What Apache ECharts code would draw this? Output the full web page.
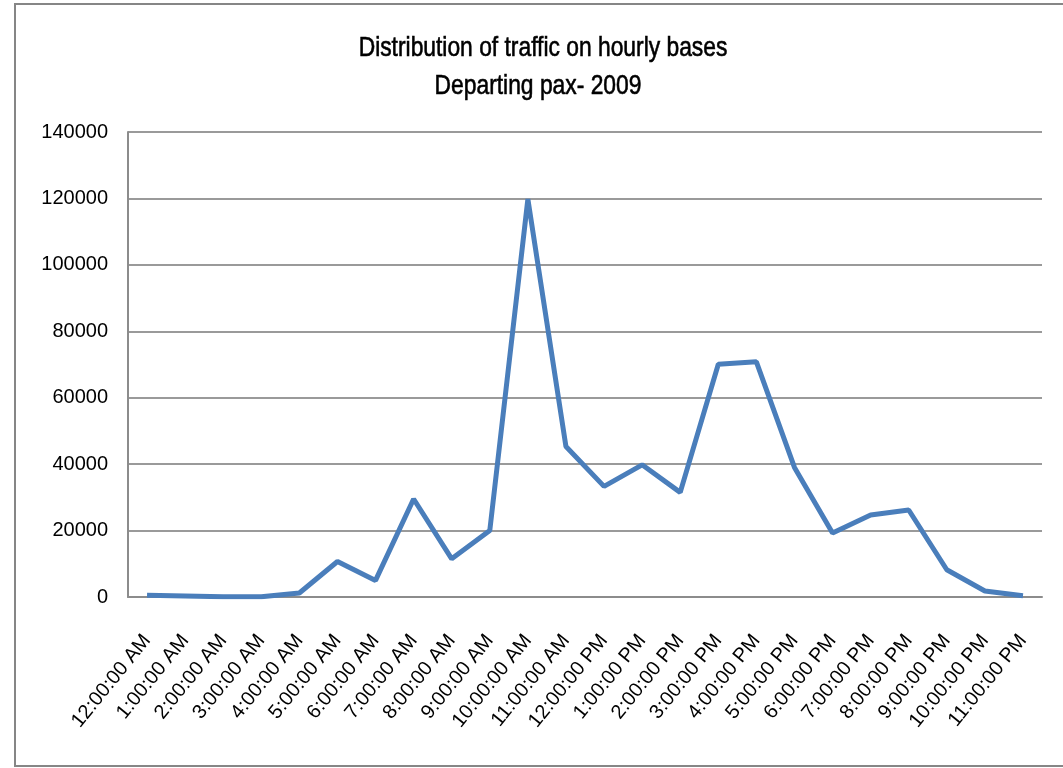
<!DOCTYPE html>
<html>
<head>
<meta charset="utf-8">
<script src="https://cdn.jsdelivr.net/npm/echarts@6/dist/echarts.min.js"></script>
<style>
  html, body { margin: 0; padding: 0; background: #fff; }
  #chart { width: 1063px; height: 768px; }
</style>
</head>
<body>
<div id="chart"></div>
<script>
// Hourly departing passengers, 2009
const hours = [
  '12:00:00 AM', '1:00:00 AM', '2:00:00 AM', '3:00:00 AM', '4:00:00 AM', '5:00:00 AM',
  '6:00:00 AM', '7:00:00 AM', '8:00:00 AM', '9:00:00 AM', '10:00:00 AM', '11:00:00 AM',
  '12:00:00 PM', '1:00:00 PM', '2:00:00 PM', '3:00:00 PM', '4:00:00 PM', '5:00:00 PM',
  '6:00:00 PM', '7:00:00 PM', '8:00:00 PM', '9:00:00 PM', '10:00:00 PM', '11:00:00 PM'
];
const departingPax = [
  500, 300, 100, 100, 1200, 10700,
  5000, 29500, 11500, 20000, 119800, 45300,
  33300, 39800, 31500, 70100, 70800, 39000,
  19300, 24700, 26200, 8200, 1800, 400
];
const titleLines = ['Distribution of traffic on hourly bases', 'Departing pax- 2009'];
const yMax = 140000;
const yStep = 20000;

const titleFont = '28px "Liberation Sans", Arial, sans-serif';

const chart = echarts.init(document.getElementById('chart'), null, { renderer: 'canvas' });
chart.setOption({
  animation: false,
  backgroundColor: '#ffffff',
  graphic: [
    {
      type: 'rect',
      shape: { x: 15, y: 4, width: 1070, height: 762 },
      style: { fill: 'none', stroke: '#868686', lineWidth: 2 },
      silent: true,
      z: -1
    },
    // two-line heading, condensed horizontally
    {
      type: 'text',
      x: 543, y: 48,
      scaleX: 0.815,
      style: {
        text: titleLines[0], font: titleFont, fill: '#000',
        stroke: '#000', lineWidth: 0.6,
        align: 'center', verticalAlign: 'middle'
      }
    },
    {
      type: 'text',
      x: 538, y: 86,
      scaleX: 0.815,
      style: {
        text: titleLines[1], font: titleFont, fill: '#000',
        stroke: '#000', lineWidth: 0.6,
        align: 'center', verticalAlign: 'middle'
      }
    }
  ],
  grid: { left: 128, right: 21, top: 132, bottom: 171 },
  xAxis: {
    type: 'category',
    data: hours,
    boundaryGap: true,
    axisLine: { lineStyle: { color: '#8c8c8c', width: 2 } },
    axisTick: { show: false },
    axisLabel: {
      interval: 0,
      rotate: 51,
      margin: 40,
      fontFamily: '"Liberation Sans", Arial, sans-serif',
      fontSize: 20,
      color: '#000'
    },
    splitLine: { show: false }
  },
  yAxis: {
    type: 'value',
    min: 0,
    max: yMax,
    interval: yStep,
    axisLine: { show: true, lineStyle: { color: '#8c8c8c', width: 2 } },
    axisTick: { show: false },
    axisLabel: {
      margin: 20,
      formatter: function (v) { return String(v); },
      fontFamily: '"Liberation Sans", Arial, sans-serif',
      fontSize: 20,
      color: '#000'
    },
    splitLine: { show: true, lineStyle: { color: '#9a9a9a', width: 2 } }
  },
  series: [{
    name: 'Departing pax',
    type: 'line',
    data: departingPax,
    symbol: 'none',
    smooth: false,
    lineStyle: { color: '#4a7ebb', width: 5 },
    itemStyle: { color: '#4a7ebb' }
  }]
});
</script>
</body>
</html>
